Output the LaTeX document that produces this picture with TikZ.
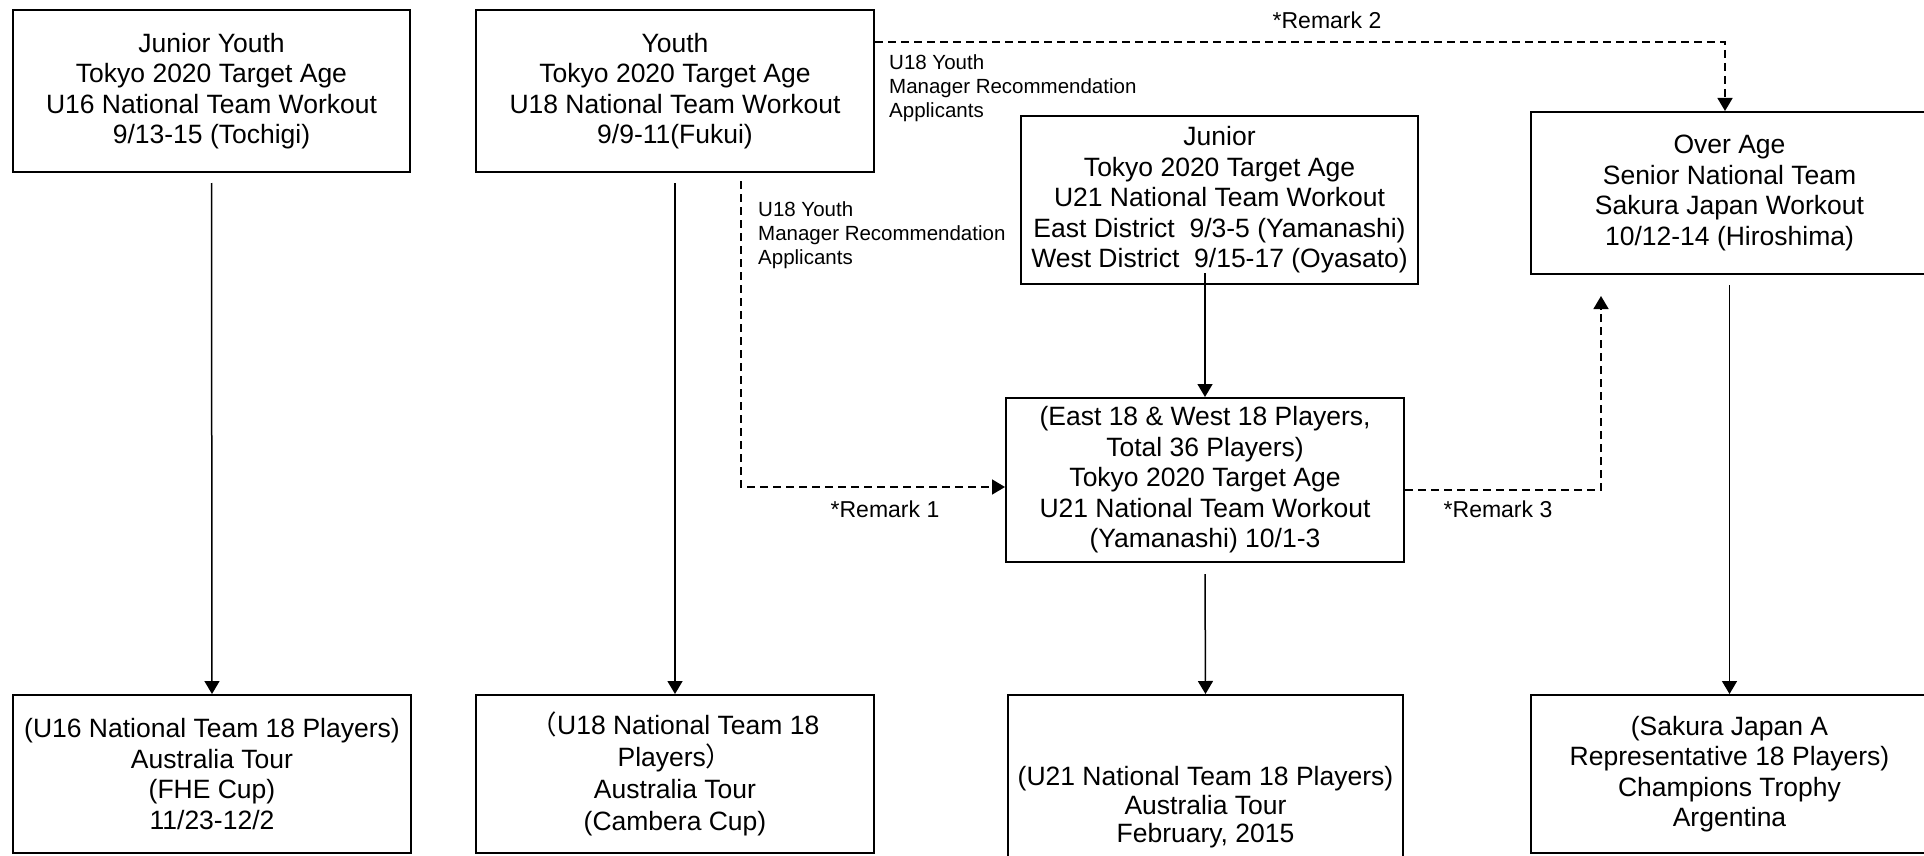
\documentclass[tikz,border=0pt]{standalone}
\usepackage{fontspec}
\setmainfont{Liberation Sans}
\newfontfamily\cjkfont{Noto Sans CJK JP}
\usetikzlibrary{arrows.meta}
\begin{document}
\begin{tikzpicture}[x=1pt,y=-1pt,
  box/.style={draw, line width=2pt, inner sep=0pt, align=center,
    font=\fontsize{26.5}{30.5}\selectfont},
  arr/.style={line width=1.5pt, -{Triangle[length=13pt,width=15pt]}},
  dasharr/.style={arr, dash pattern=on 8pt off 5pt},
  lbl/.style={inner sep=0pt, align=left, anchor=west,
    font=\fontsize{20.5}{24}\selectfont},
  rmk/.style={inner sep=0pt, font=\fontsize{23}{27}\selectfont}]
\useasboundingbox (0,0) rectangle (1924,856);
\clip (0,0) rectangle (1924,856);

\node[box, minimum width=397pt, minimum height=162pt] (b1) at (211.5,91)
  {Junior Youth\\Tokyo 2020 Target Age\\U16 National Team Workout\\9/13-15 (Tochigi)};
\node[box, minimum width=398pt, minimum height=162pt] (b2) at (675,91)
  {Youth\\Tokyo 2020 Target Age\\U18 National Team Workout\\9/9-11(Fukui)};
\node[box, minimum width=397pt, minimum height=168pt] (b3) at (1219.5,200)
  {Junior\\Tokyo 2020 Target Age\\U21 National Team Workout\\East District\ \ 9/3-5 (Yamanashi)\\West District\ \ 9/15-17 (Oyasato)};
\node[box, minimum width=397pt, minimum height=162pt] (b4) at (1729.5,193)
  {Over Age\\Senior National Team\\Sakura Japan Workout\\10/12-14 (Hiroshima)};
\node[box, minimum width=398pt, minimum height=164pt] (b5) at (1205,480)
  {(East 18 \& West 18 Players,\\Total 36 Players)\\Tokyo 2020 Target Age\\U21 National Team Workout\\(Yamanashi) 10/1-3};
\node[box, minimum width=398pt, minimum height=158pt] (b6) at (212,774)
  {(U16 National Team 18 Players)\\Australia Tour\\(FHE Cup)\\11/23-12/2};
\node[box, minimum width=398pt, minimum height=158pt, font=\fontsize{26.5}{32}\selectfont] (b7) at (675,774)
  {{\cjkfont （}U18 National Team 18\\Players{\cjkfont ）}\\Australia Tour\\(Cambera Cup)};
\node[box, minimum width=395pt, minimum height=225pt, font=\fontsize{26.5}{28.5}\selectfont] (b8) at (1205.5,807.5)
  {(U21 National Team 18 Players)\\Australia Tour\\February, 2015};
\node[box, minimum width=397pt, minimum height=158pt] (b9) at (1729.5,774)
  {(Sakura Japan A\\Representative 18 Players)\\Champions Trophy\\Argentina};

% solid connectors
\draw[arr] ([yshift=-10pt]b1.south) -- (b6.north);
\draw[arr] ([yshift=-10pt]b2.south) -- (b7.north);
\coordinate (b3s) at ([yshift=12pt]b3.south);
\draw[arr] (b3s -| b5.north) -- (b5.north);
\draw[arr] ([yshift=-11pt]b5.south) -- (b8.north);
\draw[arr] ([yshift=-10pt]b4.south) -- (b9.north);

% dashed connectors
\draw[dasharr] ([xshift=66pt,yshift=-8pt]b2.south) |- ([yshift=-7pt]b5.west);
\draw[dasharr] ([yshift=49pt]b2.east) -| ([xshift=-4.5pt]b4.north);
\draw[dasharr] ([yshift=-10pt]b5.east) -| ([xshift=-128.5pt,yshift=-21pt]b4.south);

% labels
\node[lbl] (l1) at (758,235) {U18 Youth\\Manager Recommendation\\Applicants};
\node[lbl] (l2) at (889,88) {U18 Youth\\Manager Recommendation\\Applicants};
\node[rmk] (r2) at (1327,20) {*Remark 2};
\node[rmk] (r1) at (885,509) {*Remark 1};
\node[rmk] (r3) at (1498,509) {*Remark 3};
\end{tikzpicture}
\end{document}
